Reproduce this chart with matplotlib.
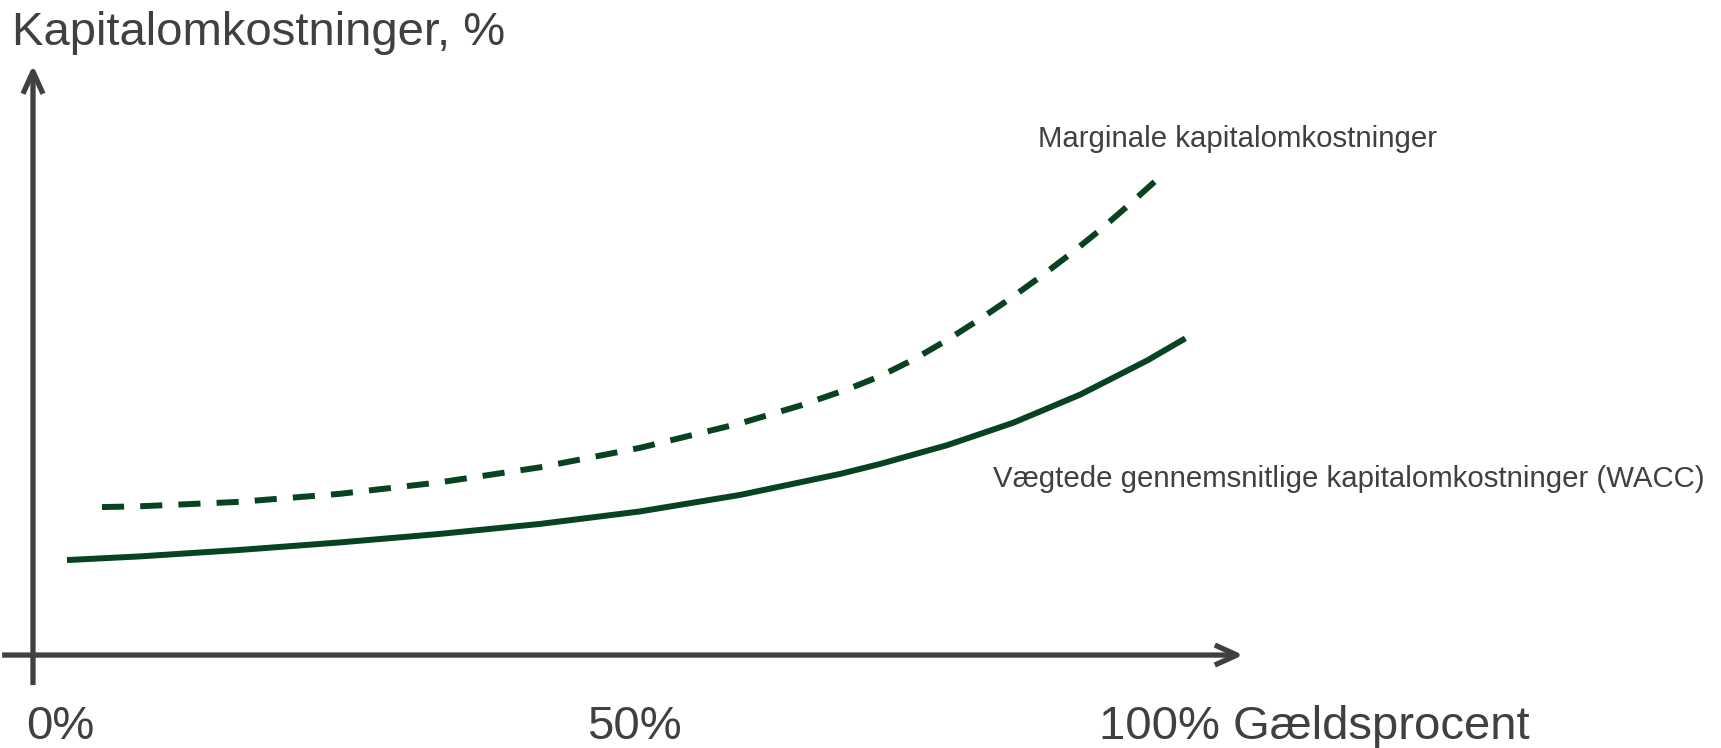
import matplotlib.pyplot as plt
import matplotlib.transforms as mtransforms

plt.rcParams['font.family'] = ['Liberation Sans', 'DejaVu Sans']

# Gældsprocent (%) and kapitalomkostninger (%)
wacc_x = [0, 6.53, 15.47, 24.42, 33.36, 42.31, 51.25, 60.20, 69.14, 72.72,
          78.71, 84.62, 90.61, 96.60, 100]
wacc_y = [3.035, 3.152, 3.359, 3.599, 3.871, 4.190, 4.589, 5.117, 5.788, 6.107,
          6.706, 7.423, 8.323, 9.414, 10.118]

marg_x = [3.13, 6.53, 15.47, 24.42, 33.36, 42.31, 51.25, 60.20, 65.56, 69.77,
          72.72, 75.67, 78.71, 81.66, 84.35, 87.03, 89.71, 92.40, 94.90, 97.32]
marg_y = [4.728, 4.753, 4.896, 5.152, 5.520, 5.999, 6.622, 7.404, 7.970, 8.489,
          8.911, 9.438, 10.067, 10.741, 11.393, 12.083, 12.812, 13.588, 14.367,
          15.144]

tick_pos = [0, 50]
tick_labels = ['0%', '50%']
tick_nudge = [-0.6, 0.7]

green = '#074320'
grey = '#404040'

fig = plt.figure(figsize=(17.21, 7.48), dpi=100)
ax = fig.add_axes([0, 0, 1, 1])
ax.set_xlim(-5.99, 147.9)
ax.set_ylim(-2.97, 20.93)
ax.axis('off')

# axes with open arrow heads
arrow = dict(arrowstyle='->,head_length=0.8,head_width=0.36', lw=3.8,
             color=grey, shrinkA=0, shrinkB=0, mutation_scale=20,
             joinstyle='round', capstyle='butt')
ax.annotate('', xy=(-3.04, 18.85), xytext=(-3.04, -0.96), arrowprops=arrow)
ax.annotate('', xy=(105.2, 0), xytext=(-5.8, 0), arrowprops=arrow)

# curves
ax.plot(wacc_x, wacc_y, color=green, lw=4.3, solid_capstyle='butt',
        solid_joinstyle='round')
dashed, = ax.plot(marg_x, marg_y, color=green, lw=4.3, dash_capstyle='butt',
                  dash_joinstyle='round')
dashed.set_dashes([3.7, 2.7])

# labels
fig.text(12 / 1721, 1 - 45 / 748, 'Kapitalomkostninger, %', fontsize=34,
         color=grey, va='baseline', ha='left')
fig.text(1038 / 1721, 1 - 147 / 748, 'Marginale kapitalomkostninger',
         fontsize=21.2, color=grey, va='baseline', ha='left')
fig.text(993 / 1721, 1 - 487 / 748,
         'Vægtede gennemsnitlige kapitalomkostninger (WACC)',
         fontsize=21.2, color=grey, va='baseline', ha='left')

trans = mtransforms.blended_transform_factory(ax.transData, fig.transFigure)
for pos, lab, nudge in zip(tick_pos, tick_labels, tick_nudge):
    ax.text(pos + nudge, 1 - 739 / 748, lab, transform=trans, fontsize=34,
            color=grey, ha='center', va='baseline')
fig.text(1099 / 1721, 1 - 739 / 748, '100% Gældsprocent', fontsize=34,
         color=grey, va='baseline', ha='left')

fig.savefig('out.png', dpi=100)
